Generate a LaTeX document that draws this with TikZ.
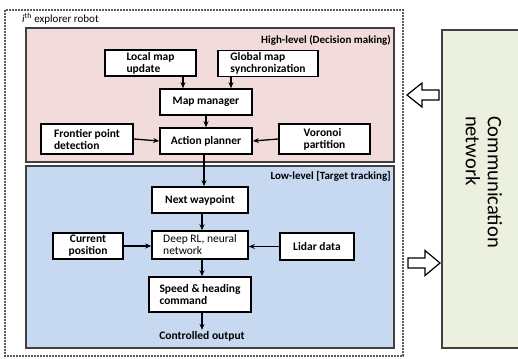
\documentclass[tikz,border=0pt]{standalone}
\usepackage{fontspec}
\setmainfont{Carlito}
\usetikzlibrary{arrows.meta}
\definecolor{pinkfill}{HTML}{F2DCDB}
\definecolor{bluefill}{HTML}{C6D9F0}
\definecolor{greenfill}{HTML}{EBF1DE}
\definecolor{edgegray}{HTML}{404040}
\begin{document}
\begin{tikzpicture}[x=1pt,y=-1pt,
  box/.style={draw=black,line width=1.6pt,fill=white,inner sep=2pt,
    font=\fontsize{11.5}{12}\selectfont\bfseries},
  arr/.style={-{Stealth[length=6pt,width=5pt]},line width=1.3pt},
  panel/.style={draw=edgegray,line width=1.3pt},
  lbl/.style={font=\fontsize{11}{12}\selectfont\bfseries,inner sep=0pt},
  hollow/.style={draw=black,line width=1.2pt,fill=white,line join=miter}]
\useasboundingbox (0,0) rectangle (518,358);
% outer dashed box
\draw[gray!70!black,line width=1.3pt,dash pattern=on 2pt off 1pt] (5,10) rectangle (403,356);
\node[lbl,anchor=west,font=\fontsize{11}{12}\selectfont] (robot) at (22,19) {\textit{i}\textsuperscript{th} explorer robot};
% panels
\draw[panel,fill=pinkfill] (26,28) rectangle (394,162);
\draw[panel,fill=bluefill] (26,166) rectangle (394,348);
\node[lbl,anchor=east] (hl) at (391,40) {High-level (Decision making)};
\node[lbl,anchor=east] (ll) at (391,176) {Low-level [Target tracking]};
% communication network
\draw[panel,fill=greenfill] (442,30) rectangle (530,348);
\node[rotate=-90,align=left,font=\fontsize{20.5}{22}\selectfont,inner sep=0pt] (comm) at (484,182) {Communication\\network};
% high level boxes
\node[box,minimum width=91pt,minimum height=24pt,align=left] (local) at (150.5,63) {Local map\\update};
\node[box,minimum width=100pt,minimum height=25pt,align=left] (global) at (268,63.5) {Global map\\synchronization};
\node[box,minimum width=92pt,minimum height=26pt] (mapm) at (206,102) {Map manager};
\node[box,minimum width=92pt,minimum height=26pt] (action) at (206,141) {Action planner};
\node[box,minimum width=92pt,minimum height=30pt,align=left] (frontier) at (87,139) {Frontier point\\detection};
\node[box,minimum width=91pt,minimum height=30pt,align=left] (voronoi) at (324.5,139) {Voronoi\\partition};
% low level boxes
\node[box,minimum width=96pt,minimum height=26pt] (next) at (200,200) {Next waypoint};
\node[box,minimum width=96pt,minimum height=28pt,align=left,font=\fontsize{11.5}{12}\selectfont] (deep) at (200,245) {Deep RL, neural\\network};
\node[box,minimum width=70pt,minimum height=26pt,align=center] (current) at (88,246) {Current\\position};
\node[box,minimum width=74pt,minimum height=27pt] (lidar) at (317,246.5) {Lidar data};
\node[box,minimum width=102pt,minimum height=35pt,align=left] (speed) at (200,294.5) {Speed \& heading\\command};
\node[font=\fontsize{11.5}{12}\selectfont\bfseries,inner sep=1pt] (out) at (202,336) {Controlled output};
% arrows
\draw[arr] (183,0 |- local.south) -- (183,0 |- mapm.north);
\draw[arr] (231,0 |- global.south) -- (231,0 |- mapm.north);
\draw[arr] (mapm.south) -- (action.north);
\draw[arr] (frontier.east) -- (action.west);
\draw[arr] (voronoi.west) -- (action.east);
\draw[arr] (204,0 |- action.south) -- (204,0 |- next.north);
\draw[arr] (202,0 |- next.south) -- (202,0 |- deep.north);
\draw[arr] (current.east) -- (current.east -| deep.west);
\draw[arr] (lidar.west) -- (lidar.west -| deep.east);
\draw[arr] (202,0 |- deep.south) -- (202,0 |- speed.north);
\draw[arr] (202,0 |- speed.south) -- (out.north);
% hollow arrows
\draw[hollow] (407,95) -- (422,83) -- (422,90) -- (439,90) -- (439,100) -- (422,100) -- (422,107) -- cycle;
\draw[hollow] (440,263) -- (425,250.5) -- (425,258) -- (408,258) -- (408,268) -- (425,268) -- (425,275.5) -- cycle;
\end{tikzpicture}
\end{document}
